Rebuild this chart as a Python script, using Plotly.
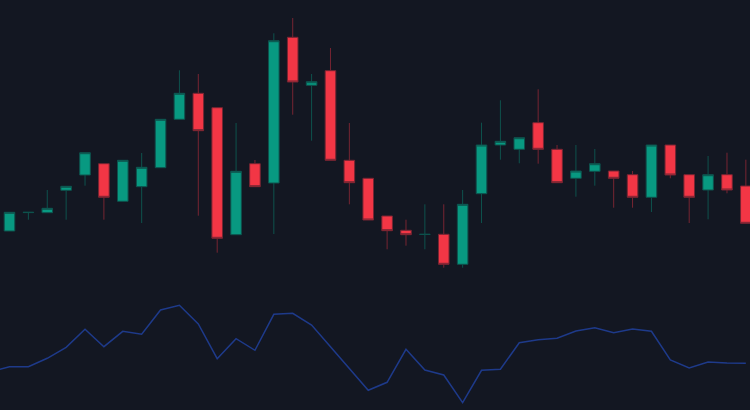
import plotly.graph_objects as go

# Candle data (index positions)
idx = list(range(40))
open_ = [96.9, 98.74, 98.73, 100.97, 102.5, 103.63, 99.87, 101.33, 103.23, 108.07,
         110.67, 109.23, 96.53, 103.63, 101.7, 116.27, 111.47, 112.93, 103.97, 102.17,
         98.4, 96.97, 96.55, 96.57, 93.57, 100.63, 105.5, 105.07, 107.73, 105.07,
         102.17, 102.87, 102.9, 102.53, 100.27, 105.5, 102.53, 101.0, 102.53, 101.4]
high = [98.77, 98.77, 101.0, 101.37, 104.73, 103.63, 103.97, 104.7, 108.07, 112.97,
        112.6, 109.23, 107.7, 104.0, 116.67, 118.2, 112.6, 115.2, 107.7, 102.17,
        98.4, 98.03, 99.57, 99.57, 101.0, 107.73, 109.97, 106.23, 111.07, 105.5,
        105.5, 105.1, 102.9, 102.9, 105.5, 105.5, 102.53, 104.4, 104.73, 104.03]
low = [96.9, 98.03, 98.73, 98.03, 101.43, 98.03, 99.87, 97.7, 103.23, 108.07,
       98.43, 94.73, 96.53, 101.33, 96.6, 108.53, 105.93, 103.97, 99.57, 98.0,
       95.07, 95.43, 95.07, 93.23, 93.23, 97.7, 104.03, 103.67, 103.63, 101.73,
       100.33, 101.43, 99.23, 99.23, 98.8, 102.17, 97.7, 98.07, 100.67, 97.67]
close = [98.77, 98.77, 99.17, 101.37, 104.73, 100.27, 103.97, 103.27, 108.07, 110.67,
         106.93, 96.17, 102.87, 101.33, 115.93, 111.8, 111.83, 103.97, 101.73, 98.0,
         96.93, 96.53, 96.57, 93.57, 99.57, 105.5, 105.87, 106.23, 105.07, 101.73,
         102.9, 103.63, 102.17, 100.27, 105.5, 102.5, 100.27, 102.53, 101.0, 97.67]

# Indicator line (starts one bar before the first visible candle)
ind_idx = list(range(-1, 40))
ind_val = [44.15, 46.65, 46.65, 50.85, 56.35, 65.35, 56.65, 64.35, 62.85, 75.0,
           77.35, 68.0, 50.65, 60.65, 54.85, 72.85, 73.35, 67.5, 56.65, 45.65,
           34.85, 38.85, 55.35, 45.0, 42.5, 28.65, 44.85, 45.35, 58.65, 60.15,
           60.85, 64.5, 66.15, 63.65, 65.5, 64.35, 50.0, 46.0, 49.0, 48.5, 48.35]

BG = "#131722"

fig = go.Figure()
fig.add_trace(go.Candlestick(
    x=idx, open=open_, high=high, low=low, close=close,
    increasing=dict(fillcolor="#089981", line=dict(color="#0e524d", width=1)),
    decreasing=dict(fillcolor="#F23645", line=dict(color="#772532", width=1)),
    whiskerwidth=0, showlegend=False, yaxis="y",
))
fig.add_trace(go.Scatter(
    x=ind_idx, y=ind_val, mode="lines",
    line=dict(color="#1e3a8a", width=1.5),
    showlegend=False, yaxis="y2",
))

fig.update_layout(
    width=750, height=410,
    margin=dict(l=0, r=0, t=0, b=0),
    paper_bgcolor=BG, plot_bgcolor=BG,
    boxgap=0.2,
    xaxis=dict(range=[-0.503, 39.22], visible=False, showgrid=False,
               zeroline=False, rangeslider=dict(visible=False), fixedrange=True),
    yaxis=dict(range=[79, 120], visible=False, showgrid=False, zeroline=False),
    yaxis2=dict(range=[25, 230], visible=False, showgrid=False, zeroline=False,
                overlaying="y"),
)

fig.write_html(
    "out.html",
    config={"displayModeBar": False},
    post_script="document.body.style.margin='0';document.body.style.overflow='hidden';"
                "document.body.style.background='#131722';",
)
